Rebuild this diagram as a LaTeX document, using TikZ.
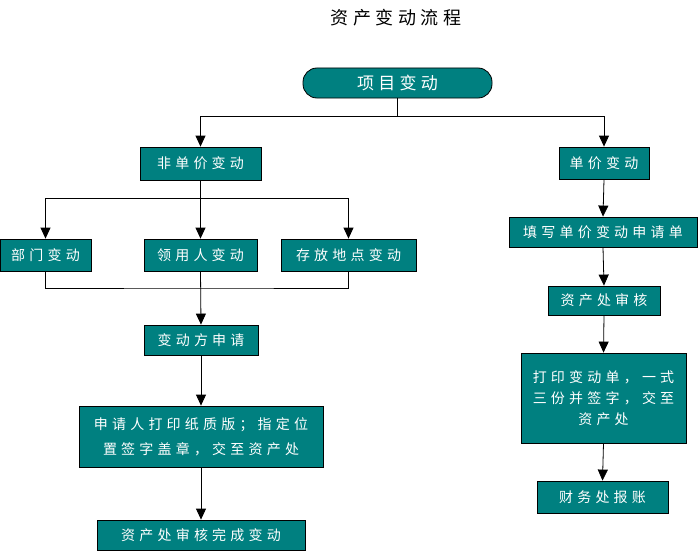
\documentclass[tikz,border=0pt]{standalone}
\usepackage{fontspec}
\usepackage{tikz}
\usetikzlibrary{arrows.meta}
\newfontfamily\cjk[LetterSpace=30]{Noto Sans CJK SC}
\newfontfamily\cjktitle[LetterSpace=25]{Noto Sans CJK SC}
\definecolor{boxteal}{RGB}{0, 128, 128}

\begin{document}
\begin{tikzpicture}[x=1pt, y=-1pt,
      stepbox/.style={draw=black, fill=boxteal, text=white, line width=0.8pt,
                      inner sep=0pt, align=center, anchor=center,
                      font=\cjk\fontsize{14}{21}\selectfont},
      flow/.style={draw=black, line width=0.8pt,
                   -{Triangle[length=11pt,width=10pt]}},
      link/.style={draw=black, line width=0.8pt},
    ]
    \useasboundingbox (0,0) rectangle (699,551);
    %% title
    \node[font=\cjktitle\fontsize{18}{20}\selectfont] (title) at (396,18) {资产变动流程};
    %% top node
    \node[stepbox, rounded corners=14pt, minimum width=189pt, minimum height=30pt,
          font=\cjktitle\fontsize{17}{20}\selectfont]
      (item) at (397.5,83) {项目变动};
    %% left branch
    \node[stepbox, minimum width=121pt, minimum height=33pt] (nonunit) at (200.5,163.5) {非单价变动};
    \node[stepbox, minimum width=91pt, minimum height=32pt] (dept) at (45.5,255) {部门变动};
    \node[stepbox, minimum width=113pt, minimum height=32pt] (user) at (200.5,255) {领用人变动};
    \node[stepbox, minimum width=135pt, minimum height=32pt] (place) at (348.5,255) {存放地点变动};
    \node[stepbox, minimum width=114pt, minimum height=30pt] (apply) at (201,340) {变动方申请};
    \node[stepbox, minimum width=244pt, minimum height=61pt,
          font=\cjk\fontsize{14}{25}\selectfont] (print) at (201,436.5)
      {申请人打印纸质版；指定位\\置签字盖章，交至资产处};
    \node[stepbox, minimum width=208pt, minimum height=30pt] (done) at (201,535) {资产处审核完成变动};
    %% right branch
    \node[stepbox, minimum width=90pt, minimum height=32pt] (unit) at (604,163) {单价变动};
    \node[stepbox, minimum width=188pt, minimum height=30pt] (form) at (603,232) {填写单价变动申请单};
    \node[stepbox, minimum width=112pt, minimum height=29pt] (audit) at (604,300.5) {资产处审核};
    \node[stepbox, minimum width=165pt, minimum height=90pt] (sheet) at (603.5,398)
      {打印变动单，一式\\三份并签字，交至\\资产处};
    \node[stepbox, minimum width=131pt, minimum height=32pt] (finance) at (602.5,497) {财务处报账};
    %% split points
    \coordinate (split1) at (item.south |- 0,116);
    \coordinate (split2) at (nonunit.south |- 0,198);
    \coordinate (merge) at (user.south |- 0,288);
    %% connectors
    \draw[link] (item.south) -- (split1);
    \draw[flow] (split1) -| (nonunit.north);
    \draw[flow] (split1) -| (unit.north);
    \draw[link] (nonunit.south) -- (split2);
    \draw[flow] (split2) -| (dept.north);
    \draw[flow] (split2) -- (user.north);
    \draw[flow] (split2) -| (place.north);
    \draw[link] (dept.south) |- (merge) -| (place.south);
    \draw[flow] (user.south) -- (apply.north);
    \draw[flow] (apply.south) -- (print.north);
    \draw[flow] (print.south) -- (done.north);
    \draw[flow] (unit.south) -- (form.north);
    \draw[flow] (form.south) -- (audit.north);
    \draw[flow] (audit.south) -- (sheet.north);
    \draw[flow] (sheet.south) -- (finance.north);
\end{tikzpicture}
\end{document}
